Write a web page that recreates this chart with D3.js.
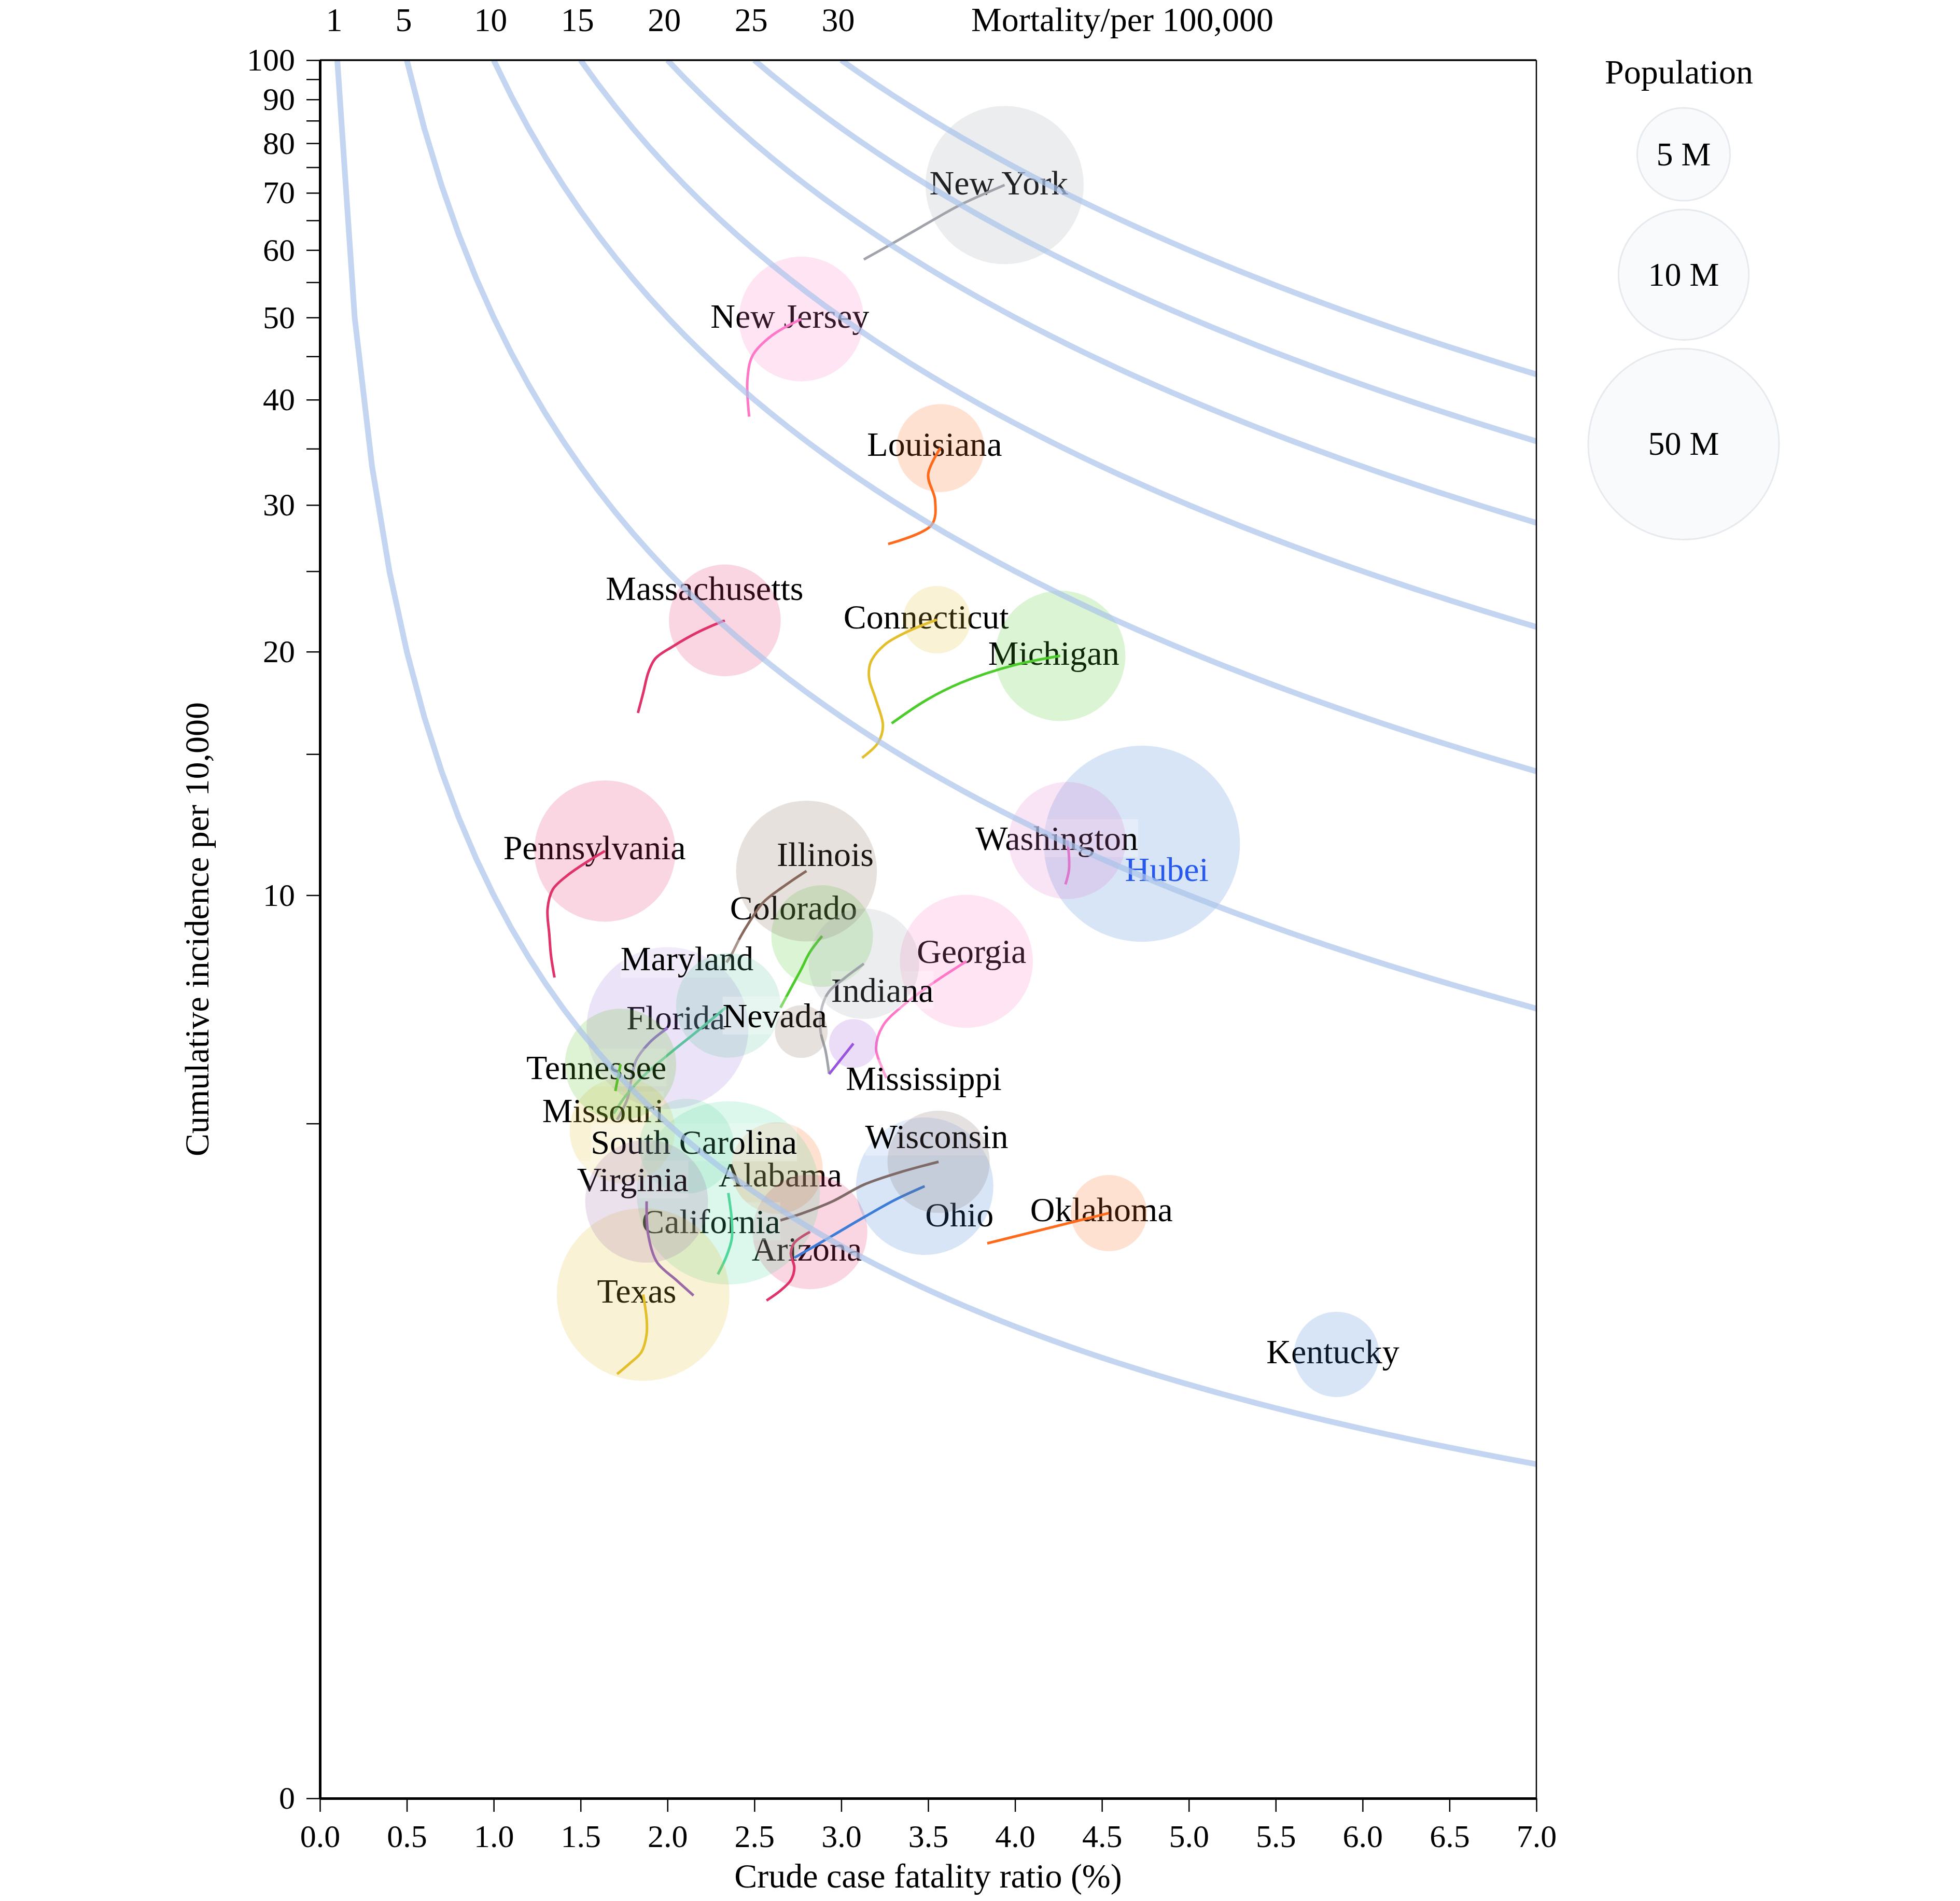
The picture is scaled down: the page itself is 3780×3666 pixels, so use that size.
<!DOCTYPE html>
<html><head><meta charset="utf-8">
<script src="https://cdn.jsdelivr.net/npm/d3@7"></script>
<style>
html,body{margin:0;padding:0;background:#fff;}
svg{display:block;font-family:"Liberation Serif","Times New Roman",serif;}
</style></head><body>
<svg id="chart" width="3780" height="3666"></svg>
<script>
// ---------------- data ----------------
const states = ["Alabama","Arizona","California","Colorado","Connecticut","Florida","Georgia","Hubei","Illinois","Indiana","Kentucky","Louisiana","Maryland","Massachusetts","Michigan","Mississippi","Missouri","Nevada","New Jersey","New York","Ohio","Oklahoma","Pennsylvania","South Carolina","Tennessee","Texas","Virginia","Washington","Wisconsin"];
// population, millions
const population = [4.90,7.28,39.51,5.76,3.57,21.48,10.62,59.17,12.67,6.73,4.47,4.65,6.05,6.89,9.99,2.98,6.14,3.08,8.88,19.45,11.69,3.96,12.80,5.15,6.83,29.00,8.54,7.61,5.82];
// trajectory: crude case fatality ratio (%), last value = current
const trailCfr = [
  [2.63],
  [2.57,2.65,2.71,2.73,2.71,2.73,2.82],
  [2.29,2.34,2.37,2.37,2.35],
  [2.65,2.71,2.77,2.82,2.89],
  [3.12,3.21,3.24,3.20,3.16,3.17,3.25,3.39,3.55],
  [1.71,1.77,1.79,1.82,1.90,2.00],
  [3.26,3.23,3.20,3.24,3.35,3.52,3.72],
  [4.73],
  [2.34,2.37,2.42,2.48,2.55,2.66,2.80],
  [2.93,2.91,2.88,2.89,2.93,3.02,3.13],
  [5.85],
  [3.27,3.52,3.54,3.50,3.57],
  [1.69,1.76,1.85,2.01,2.18,2.35],
  [1.83,1.86,1.89,1.93,2.03,2.17,2.33],
  [3.29,3.49,3.69,3.99,4.26],
  [2.93,3.07],
  [1.74],
  [2.77],
  [2.47,2.46,2.49,2.60,2.77],
  [3.13,3.29,3.55,3.68,3.94],
  [2.73,2.95,3.14,3.31,3.48],
  [3.84,4.54],
  [1.35,1.33,1.32,1.31,1.34,1.43,1.54,1.64],
  [2.11],
  [1.70,1.73],
  [1.71,1.78,1.85,1.88,1.88,1.86],
  [2.15,2.05,1.94,1.89,1.88],
  [4.29,4.31,4.31,4.30],
  [2.65,2.78,2.95,3.13,3.35,3.56]
];
// trajectory: cumulative incidence per 10,000, last value = current
const trailInc = [
  [4.33],
  [2.75,2.85,2.96,3.09,3.25,3.37,3.50],
  [3.02,3.22,3.42,3.64,3.99],
  [7.16,7.59,8.04,8.46,8.87],
  [14.84,15.47,16.24,17.47,18.6,19.43,20.39,21.19,21.86],
  [5.06,5.41,5.72,6.10,6.45,6.73],
  [5.77,5.99,6.33,6.78,7.19,7.69,8.23],
  [11.61],
  [8.20,8.41,8.85,9.31,9.79,10.23,10.73],
  [5.85,6.27,6.69,7.19,7.52,7.83,8.17],
  [2.25],
  [26.95,28.4,30.4,32.6,35.06],
  [5.16,5.46,5.77,6.22,6.69,7.21],
  [16.85,17.81,18.88,19.62,20.29,21.09,21.82],
  [16.36,17.47,18.34,19.25,19.77],
  [5.84,6.42],
  [4.89],
  [6.66],
  [38.2,42.2,45.1,47.6,49.8],
  [58.5,61.0,65.45,67.7,71.5],
  [3.20,3.455,3.69,3.90,4.08],
  [3.365,3.73],
  [7.84,8.36,8.91,9.61,10.17,10.62,11.03,11.37],
  [4.65],
  [5.54,6.02],
  [2.085,2.17,2.27,2.43,2.57,2.81],
  [2.80,2.96,3.15,3.455,3.88],
  [10.32,10.75,11.23,11.72],
  [3.64,3.73,3.88,4.10,4.28,4.42]
];
const mortalityLevels = [1,5,10,15,20,25,30];
const xTickValues = [0,0.5,1,1.5,2,2.5,3,3.5,4,4.5,5,5.5,6,6.5,7];
const yTickValues = [0,5,10,15,20,25,30,35,40,45,50,55,60,65,70,75,80,85,90,95,100];
const yTickLabels = [0,10,20,30,40,50,60,70,80,90,100];
const legendPopulations = [5,10,50];

// ---------------- styles / layout ----------------
const stateColors = ["#ff6a1a","#e0336a","#4fd69a","#4ccc2a","#e3bf2c","#9b72d6","#ff78c8","#3d7dd8","#86685c","#a0a4aa","#3d7dd8","#ff6a1a","#5cc2a0","#e0336a","#4ccc2a","#9955dd","#e3bf2c","#86685c","#ff78c8","#a0a4aa","#3d7dd8","#ff6a1a","#e0336a","#5cd6a0","#5cbf2a","#e3bf2c","#9a6aa6","#dd77cc","#7e6b68"];
const labelNudge = [[6.5,35],[-6,55.5],[-33.5,77],[-55,-32],[-20.5,16.7],[16,2],[10,3],[48,72],[36,-9.4],[35.7,73],[-7,17],[-11,15],[-79.5,-67.6],[-39,-39.5],[-12.5,17.3],[135.7,90],[-37,-16.5],[-51,-8.3],[-22,16.5],[-11,18],[67,77],[-14.3,15.5],[-20,16.3],[14,15],[-46.7,28.4],[-12.4,16],[-27,-19.4],[-20,18],[-3.5,-26]];

const FONT = "Liberation Serif";
const svg = d3.select("#chart");
const X0 = 617, X1 = 2963, Y0 = 3468, Y1 = 116;
const x = d3.scaleLinear().domain([0,7]).range([X0,X1]);
const y = d3.scaleSymlog().constant(1).domain([0,100]).range([Y0,Y1]);
const areaScale = d3.scaleLog().domain([2.447,50]).range([0,184*184]);
const rOf = p => Math.sqrt(Math.max(0, areaScale(p)));

svg.append("defs").append("clipPath").attr("id","plotclip")
  .append("rect").attr("x",X0).attr("y",Y1).attr("width",X1-X0).attr("height",Y0-Y1);

const data = states.map((s,i)=>({
  name:s, pop:population[i], color:stateColors[i], nudge:labelNudge[i],
  pts: trailCfr[i].map((c,j)=>[c, trailInc[i][j]])
}));

const plot = svg.append("g");
const trailLine = d3.line().x(d=>x(d[0])).y(d=>y(d[1])).curve(d3.curveCatmullRom.alpha(0.5));

data.forEach(d=>{
  const last = d.pts[d.pts.length-1];
  const cx = x(last[0]), cy = y(last[1]);
  const g = plot.append("g");
  const bg = g.append("rect");
  const t = g.append("text")
    .attr("x", cx + d.nudge[0]).attr("y", cy + d.nudge[1])
    .attr("text-anchor","middle").attr("font-family",FONT).attr("font-size",66)
    .attr("fill", d.name==="Hubei" ? "#2450f5" : "#000")
    .text(d.name);
  const bb = t.node().getBBox();
  bg.attr("x",bb.x).attr("y",bb.y).attr("width",bb.width).attr("height",bb.height)
    .attr("fill","#fff").attr("fill-opacity",0.3);
  g.append("circle").attr("cx",cx).attr("cy",cy).attr("r",rOf(d.pop))
    .attr("fill",d.color).attr("fill-opacity",0.2);
  if (d.pts.length>1) {
    g.append("path").attr("d",trailLine(d.pts)).attr("fill","none")
      .attr("stroke",d.color).attr("stroke-width",5);
  }
});

// iso-mortality curves
const isoLine = d3.line().x(d=>x(d[0])).y(d=>y(d[1]));
const iso = svg.append("g").attr("clip-path","url(#plotclip)");
mortalityLevels.forEach(m=>{
  const pts = d3.range(m,71).map(k=>[k/10, m*10/(k/10)]);
  iso.append("path").attr("d",isoLine(pts)).attr("fill","none")
    .attr("stroke","#a9c3ea").attr("stroke-opacity",0.7).attr("stroke-width",11);
});

// frame
svg.append("line").attr("x1",X0).attr("x2",X1).attr("y1",Y1).attr("y2",Y1).attr("stroke","#000").attr("stroke-width",3.5);
svg.append("line").attr("x1",X1).attr("x2",X1).attr("y1",Y1).attr("y2",Y0).attr("stroke","#000").attr("stroke-width",2.5);

// axes
const gx = svg.append("g").attr("transform",`translate(0,${Y0})`)
  .call(d3.axisBottom(x).tickValues(xTickValues).tickFormat(d3.format(".1f")).tickSize(26).tickSizeOuter(0).tickPadding(24));
gx.attr("font-family",FONT).attr("font-size",62);
gx.select(".domain").attr("stroke-width",5);
gx.selectAll(".tick line").attr("stroke-width",2.5);
gx.selectAll(".tick text").attr("fill","#000");

const gy = svg.append("g").attr("transform",`translate(${X0},0)`)
  .call(d3.axisLeft(y).tickValues(yTickValues).tickFormat(v=>yTickLabels.includes(v)?v:"").tickSize(26).tickSizeOuter(0).tickPadding(22));
gy.attr("font-family",FONT).attr("font-size",62);
gy.select(".domain").attr("stroke-width",5);
gy.selectAll(".tick line").attr("stroke-width",2.5);
gy.selectAll(".tick text").attr("fill","#000");

// axis titles
svg.append("text").attr("x",(X0+X1)/2).attr("y",3640).attr("text-anchor","middle")
  .attr("font-family",FONT).attr("font-size",66).text("Crude case fatality ratio (%)");
svg.append("text").attr("transform","translate(402,1792) rotate(-90)").attr("text-anchor","middle")
  .attr("font-family",FONT).attr("font-size",66).text("Cumulative incidence per 10,000");

// top mortality labels
mortalityLevels.forEach(m=>{
  svg.append("text").attr("x",x(m/10)-6).attr("y",60).attr("text-anchor","middle")
    .attr("font-family",FONT).attr("font-size",64).text(m);
});
svg.append("text").attr("x",1873).attr("y",60).attr("font-family",FONT).attr("font-size",66).text("Mortality/per 100,000");

// legend
const LX = 3247;
svg.append("text").attr("x",3238).attr("y",161).attr("text-anchor","middle")
  .attr("font-family",FONT).attr("font-size",66).text("Population");
let yy = 208;
legendPopulations.forEach(p=>{
  const r = rOf(p);
  const cy = yy + r;
  svg.append("circle").attr("cx",LX).attr("cy",cy).attr("r",r)
    .attr("fill","#f9fafb").attr("stroke","#e6e9ee").attr("stroke-width",3);
  svg.append("text").attr("x",LX).attr("y",cy+21).attr("text-anchor","middle")
    .attr("font-family",FONT).attr("font-size",64).text(p+" M");
  yy = cy + r + 17;
});
</script>
</body></html>
